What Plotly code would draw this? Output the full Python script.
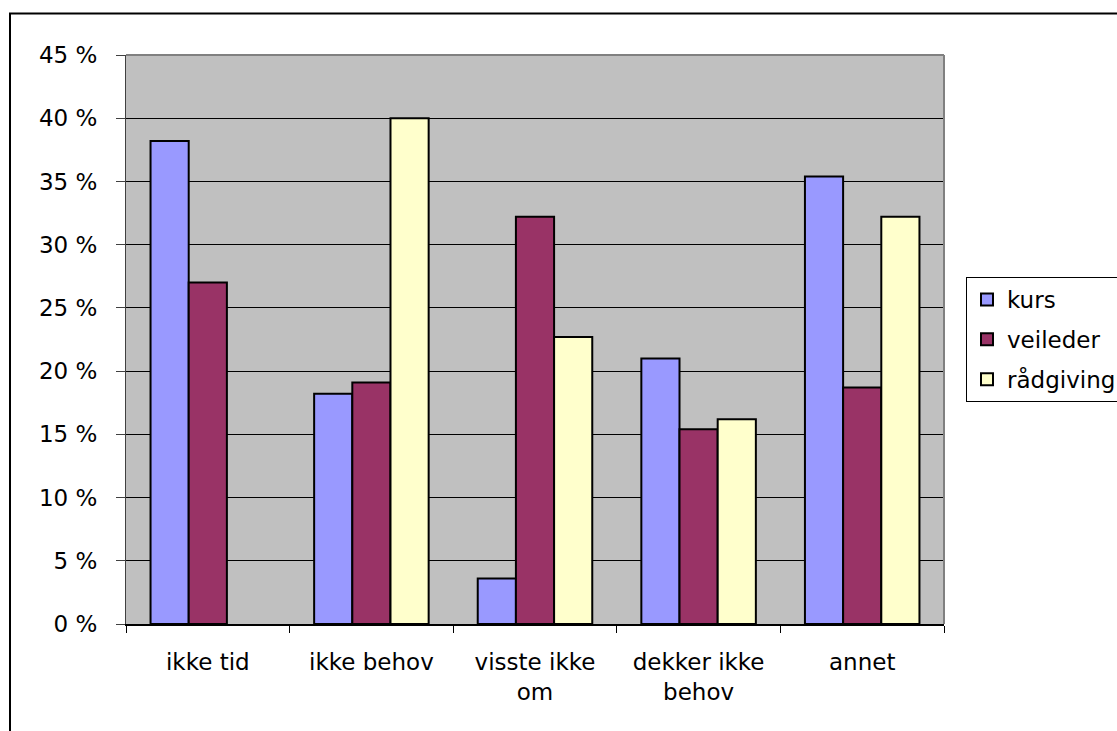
import plotly.graph_objects as go

# Reasons for not using the offers, share of respondents (%)
categories = ["ikke tid", "ikke behov", "visste ikke<br>om", "dekker ikke<br>behov", "annet"]
kurs = [38.2, 18.2, 3.6, 21.0, 35.4]
veileder = [27.0, 19.1, 32.2, 15.4, 18.7]
raadgiving = [None, 40.0, 22.7, 16.2, 32.2]  # no answers for "ikke tid"

series_names = ["kurs", "veileder", "rådgiving"]
series_colors = ["#9999FF", "#993366", "#FFFFCC"]

y_tick_values = [0, 5, 10, 15, 20, 25, 30, 35, 40, 45]
y_tick_labels = ["0 %", "5 %", "10 %", "15 %", "20 %", "25 %", "30 %", "35 %", "40 %", "45 %"]

W, H = 1117, 731
L, R, T, B = 126, 944, 55, 624  # plot area in pixels

FONT = dict(family="DejaVu Sans, Arial, sans-serif", size=23, color="#000000")

fig = go.Figure()
for name, vals, color in zip(series_names, [kurs, veileder, raadgiving], series_colors):
    fig.add_trace(go.Bar(
        x=categories, y=vals, name=name, legendgroup=name,
        marker=dict(color=color, line=dict(color="#000000", width=2)),
    ))


def px_x(px):
    return (px - L) / (R - L)


def px_y(py):
    return (B - py) / (B - T)


fig.update_layout(
    width=W, height=H,
    margin=dict(l=L, r=W - R, t=T, b=H - B, autoexpand=False),
    paper_bgcolor="#FFFFFF",
    plot_bgcolor="#C0C0C0",
    barmode="group", bargap=0.30, bargroupgap=0.0,
    font=FONT,
    showlegend=True,
    legend=dict(
        x=px_x(966), y=px_y(277), xanchor="left", yanchor="top",
        bordercolor="#000000", borderwidth=1, bgcolor="#FFFFFF",
        font=FONT, tracegroupgap=7, itemwidth=30,
    ),
    xaxis=dict(
        showgrid=False, ticks="outside", tickson="boundaries", ticklen=7,
        tickcolor="#000000", tickwidth=1, showline=True, linecolor="#000000",
        linewidth=2, tickfont=FONT, ticklabelstandoff=16,
    ),
    yaxis=dict(
        range=[0, 45], tickvals=y_tick_values, ticktext=y_tick_labels,
        showgrid=True, gridcolor="#000000", gridwidth=1,
        ticks="outside", ticklen=9, tickcolor="#404040", tickwidth=1,
        showline=True, linecolor="#404040", linewidth=1,
        zeroline=False, tickfont=FONT, ticklabelstandoff=14,
    ),
    shapes=[
        # plot area frame (top and right sides in grey)
        dict(type="line", xref="paper", yref="paper", x0=0, x1=1, y0=1, y1=1,
             line=dict(color="#808080", width=2)),
        dict(type="line", xref="paper", yref="paper", x0=1, x1=1, y0=0, y1=1,
             line=dict(color="#808080", width=2)),
        # outer chart border
        dict(type="rect", xref="paper", yref="paper",
             x0=px_x(10), x1=px_x(1130), y0=px_y(13.5), y1=px_y(745),
             line=dict(color="#000000", width=2), fillcolor="rgba(0,0,0,0)"),
    ],
)

fig.write_html("out.html")
